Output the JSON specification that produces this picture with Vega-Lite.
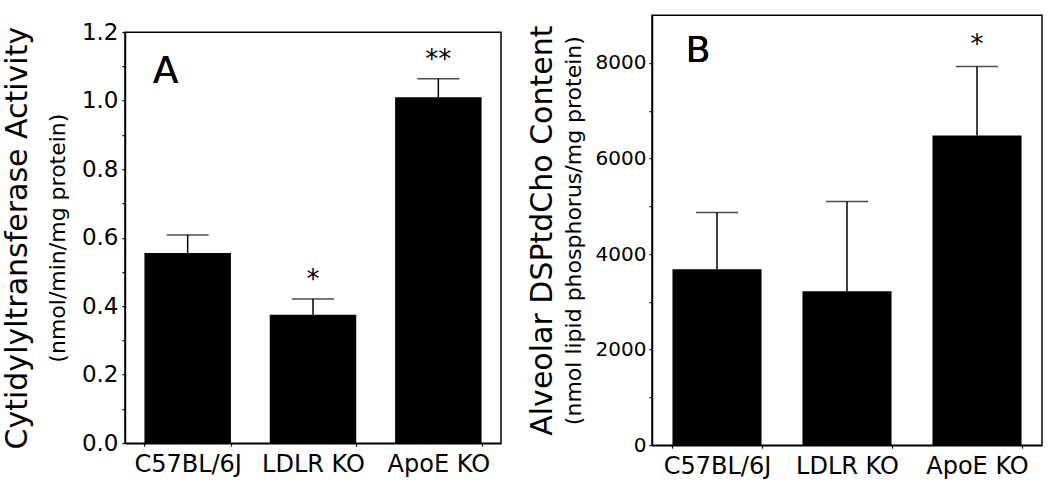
{
  "$schema": "https://vega.github.io/schema/vega-lite/v6.json",
  "padding": {"left": 1, "top": 14, "right": 0, "bottom": 0},
  "background": "white",
  "config": {
    "font": "DejaVu Sans",
    "view": {"stroke": "black", "strokeWidth": 1.5},
    "axis": {"labelFont": "DejaVu Sans", "titleFont": "DejaVu Sans", "labelColor": "black", "titleColor": "black", "tickColor": "black", "domainColor": "black", "domainWidth": 1.5, "tickWidth": 1.2, "grid": false, "titleFontWeight": "normal"},
    "title": {"font": "DejaVu Sans"}
  },
  "concat": [
    {
      "width": 376, "height": 411,
      "data": {"values": [
        {"group": "C57BL/6J", "mean": 0.555, "upper": 0.608, "sig": ""},
        {"group": "LDLR KO", "mean": 0.375, "upper": 0.421, "sig": "*"},
        {"group": "ApoE KO", "mean": 1.01, "upper": 1.064, "sig": "**"}
      ]},
      "encoding": {
        "x": {"field": "group", "type": "nominal", "sort": null,
          "scale": {"paddingInner": 0.31, "paddingOuter": 0.155},
          "axis": {"title": null, "labelAngle": 0, "labelFontSize": 24, "labelPadding": 6, "ticks": true, "tickBand": "extent", "tickSize": 3, "domain": true}}
      },
      "layer": [
        {"mark": {"type": "bar", "color": "black"},
         "encoding": {"y": {"field": "mean", "type": "quantitative", "scale": {"domain": [0, 1.2], "nice": false},
           "axis": {"orient": "left", "values": [0, 0.2, 0.4, 0.6, 0.8, 1.0, 1.2], "format": ".1f", "labelFontSize": 23, "tickSize": 3, "labelPadding": 4,
             "title": "(nmol/min/mg protein)", "titleFontSize": 22, "titlePadding": 12}}}},
        {"mark": {"type": "rule", "color": "black", "strokeWidth": 1.5},
         "encoding": {"y": {"field": "mean", "type": "quantitative", "scale": {"domain": [0, 1.2], "nice": false}, "axis": null}, "y2": {"field": "upper"}}},
        {"mark": {"type": "tick", "color": "black", "size": 42, "thickness": 1.5},
         "encoding": {"y": {"field": "upper", "type": "quantitative", "scale": {"domain": [0, 1.2], "nice": false},
           "axis": {"orient": "left", "values": [0.1, 0.3, 0.5, 0.7, 0.9, 1.1], "labels": false, "domain": false, "tickSize": 3,
             "title": "Cytidylyltransferase Activity", "titleFontSize": 30, "titlePadding": 89}}}},
        {"mark": {"type": "text", "color": "black", "fontSize": 26, "baseline": "alphabetic", "dy": -11},
         "encoding": {"y": {"field": "upper", "type": "quantitative", "scale": {"domain": [0, 1.2], "nice": false}, "axis": null}, "text": {"field": "sig"}}},
        {"mark": {"type": "text", "color": "black", "fontSize": 37, "baseline": "middle", "align": "center", "dx": -22},
         "encoding": {"x": {"datum": "C57BL/6J"}, "y": {"datum": 1.085, "type": "quantitative", "scale": {"domain": [0, 1.2], "nice": false}, "axis": null}, "text": {"value": "A"}}}
      ],
      "resolve": {"axis": {"y": "independent"}}
    },
    {
      "width": 390, "height": 430,
      "title": {"text": " ", "orient": "bottom", "fontSize": 5, "offset": 10},
      "data": {"values": [
        {"group": "C57BL/6J", "mean": 3680, "upper": 4870, "sig": ""},
        {"group": "LDLR KO", "mean": 3220, "upper": 5100, "sig": ""},
        {"group": "ApoE KO", "mean": 6480, "upper": 7925, "sig": "*"}
      ]},
      "encoding": {
        "x": {"field": "group", "type": "nominal", "sort": null,
          "scale": {"paddingInner": 0.315, "paddingOuter": 0.1575},
          "axis": {"title": null, "labelAngle": 0, "labelFontSize": 24, "labelPadding": 6, "ticks": true, "tickBand": "extent", "tickSize": 3, "domain": true}}
      },
      "layer": [
        {"mark": {"type": "bar", "color": "black"},
         "encoding": {"y": {"field": "mean", "type": "quantitative", "scale": {"domain": [0, 9000], "nice": false},
           "axis": {"orient": "left", "values": [0, 2000, 4000, 6000, 8000], "format": "d", "labelFontSize": 20, "tickSize": 3, "labelPadding": 3,
             "title": "(nmol lipid phosphorus/mg protein)", "titleFontSize": 22, "titlePadding": 10}}}},
        {"mark": {"type": "rule", "color": "black", "strokeWidth": 1.5},
         "encoding": {"y": {"field": "mean", "type": "quantitative", "scale": {"domain": [0, 9000], "nice": false}, "axis": null}, "y2": {"field": "upper"}}},
        {"mark": {"type": "tick", "color": "black", "size": 42, "thickness": 1.5},
         "encoding": {"y": {"field": "upper", "type": "quantitative", "scale": {"domain": [0, 9000], "nice": false},
           "axis": {"orient": "left", "values": [1000, 3000, 5000, 7000], "labels": false, "domain": false, "tickSize": 3,
             "title": "Alveolar DSPtdCho Content", "titleFontSize": 30, "titlePadding": 91}}}},
        {"mark": {"type": "text", "color": "black", "fontSize": 26, "baseline": "alphabetic", "dy": -13},
         "encoding": {"y": {"field": "upper", "type": "quantitative", "scale": {"domain": [0, 9000], "nice": false}, "axis": null}, "text": {"field": "sig"}}},
        {"mark": {"type": "text", "color": "black", "fontSize": 36, "baseline": "middle", "align": "center", "dx": -19},
         "encoding": {"x": {"datum": "C57BL/6J"}, "y": {"datum": 8244, "type": "quantitative", "scale": {"domain": [0, 9000], "nice": false}, "axis": null}, "text": {"value": "B"}}}
      ],
      "resolve": {"axis": {"y": "independent"}}
    }
  ],
  "columns": 2,
  "center": true,
  "spacing": 24
}
